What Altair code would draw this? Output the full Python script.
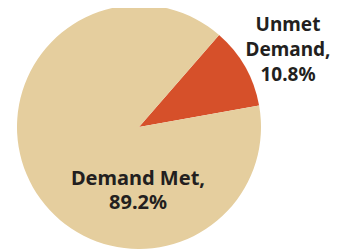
import altair as alt
import pandas as pd

categories = ["Unmet Demand", "Demand Met"]
shares = [10.8, 89.2]
colors = ["#D6502A", "#E5CE9E"]
label_met = ["Demand Met,", "89.2%"]
label_unmet = ["Unmet", "Demand,", "10.8%"]

df = pd.DataFrame({"category": categories, "share": shares, "order": [0, 1]})

start = 0.716  # radians, where the Unmet slice begins (clockwise from top)
two_pi = 6.283185307

pie = alt.Chart(df).mark_arc(x=131, y=119, outerRadius=122, stroke=None).encode(
    theta=alt.Theta("share:Q", stack=True, scale=alt.Scale(range=[start, start + two_pi])),
    order=alt.Order("order:Q"),
    color=alt.Color("category:N", scale=alt.Scale(domain=categories, range=colors), legend=None),
)

txt_met = alt.Chart(pd.DataFrame({"t": [label_met]})).mark_text(
    x=130, y=177, align="center", baseline="alphabetic", font="Noto Sans",
    fontWeight="bold", fontSize=20, lineHeight=24, color="#231F20"
).encode(text="t")

txt_unmet = alt.Chart(pd.DataFrame({"t": [label_unmet]})).mark_text(
    x=280, y=23, align="center", baseline="alphabetic", font="Noto Sans",
    fontWeight="bold", fontSize=19, lineHeight=25, color="#231F20"
).encode(text="t")

chart = alt.layer(pie, txt_met, txt_unmet).properties(
    width=323, height=241, padding=0, autosize=alt.AutoSizeParams(type="none")
).configure_view(stroke=None)

chart.save("out.html", embed_options={"renderer": "svg", "actions": False})
